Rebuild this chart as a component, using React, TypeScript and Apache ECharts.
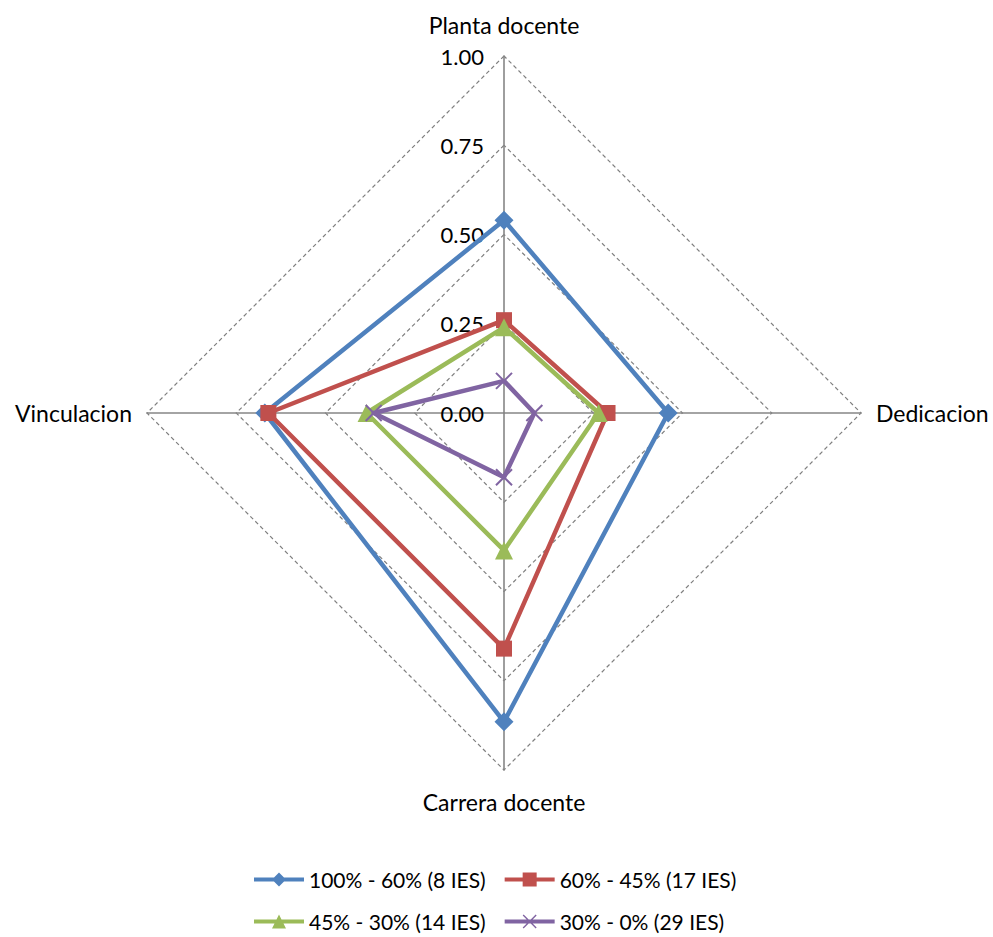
import React, { useEffect, useRef } from "react";
import * as echarts from "echarts";

// Axes listed counter-clockwise from the top, as the radar lays them out
const indicatorNames = ["Planta docente", "Vinculacion", "Carrera docente", "Dedicacion"];
const axisMax = 1;

const seriesNames = [
  "100% - 60% (8 IES)",
  "60% - 45% (17 IES)",
  "45% - 30% (14 IES)",
  "30% - 0% (29 IES)",
];
const group1 = [0.54, 0.67, 0.865, 0.46];
const group2 = [0.26, 0.66, 0.66, 0.29];
const group3 = [0.24, 0.385, 0.385, 0.265];
const group4 = [0.09, 0.365, 0.18, 0.085];

const colors = ["#4F81BD", "#C0504D", "#9BBB59", "#8064A2"];
const FONT = "Lato, 'Open Sans', sans-serif";

// Legend icons: a line with the series marker on it, in a 50x14 box
const LINE = "M0 5H50V9H0Z";
const legendIcons = [
  `path://${LINE}M25 0L32 7L25 14L18 7Z`,
  `path://${LINE}M18 0H32V14H18Z`,
  `path://${LINE}M25 0L32 14H18Z`,
  `path://${LINE}M18 1L19 0L32 13L31 14ZM31 0L32 1L19 14L18 13Z`,
];

export default function App() {
  const ref = useRef<HTMLDivElement>(null);

  useEffect(() => {
    if (!ref.current) return;
    const chart = echarts.init(ref.current, null, { renderer: "svg" });

    const values = [group1, group2, group3, group4];
    const symbols = ["diamond", "rect", "triangle", "path://M0 0L10 10M10 0L0 10"];
    const symbolSizes = [19, 16, 18, 16];

    const series = values.map((v, i) => ({
      type: "radar",
      name: seriesNames[i],
      z: 2 + i,
      symbol: symbols[i],
      symbolSize: symbolSizes[i],
      lineStyle: { color: colors[i], width: 4.5 },
      itemStyle:
        i === 3
          ? { color: "rgba(0,0,0,0)", borderColor: colors[i], borderWidth: 2 }
          : { color: colors[i], borderWidth: 0 },
      data: [{ value: v, name: seriesNames[i] }],
    }));

    const legendData = seriesNames.map((name, i) => ({
      name,
      icon: legendIcons[i],
      itemStyle: { color: colors[i], borderWidth: 0 },
    }));

    const legendBase = {
      left: 254,
      padding: 0,
      itemWidth: 50,
      itemHeight: 14,
      itemGap: 19,
      itemStyle: { borderWidth: 0 },
      textStyle: { color: "#000", fontSize: 21, fontFamily: FONT },
    };

    chart.setOption({
      animation: false,
      backgroundColor: "#ffffff",
      textStyle: { fontFamily: FONT },
      radar: {
        center: [504, 413],
        radius: 357,
        startAngle: 90,
        shape: "polygon",
        splitNumber: 4,
        nameGap: 16,
        axisName: { color: "#000", fontSize: 23, fontFamily: FONT },
        axisLine: { lineStyle: { color: "#868686", width: 1.6 } },
        splitLine: { lineStyle: { color: "#7f7f7f", width: 1.2, type: [4, 3] } },
        splitArea: { show: false },
        axisTick: { show: false },
        axisLabel: {
          show: false,
          color: "#000",
          fontSize: 22,
          fontFamily: FONT,
          formatter: (v: number) => v.toFixed(2),
        },
        indicator: indicatorNames.map((name, i) => ({
          name,
          min: 0,
          max: axisMax,
          nameGap: i % 2 === 0 ? 20 : 15,
          axisLabel: i === 0 ? { show: true, margin: 20 } : { show: false },
        })),
      },
      legend: [
        { ...legendBase, top: 869, data: legendData.slice(0, 2) },
        { ...legendBase, top: 911, data: legendData.slice(2, 4) },
      ],
      series,
    });

    return () => chart.dispose();
  }, []);

  return (
    <div
      ref={ref}
      style={{ position: "fixed", left: 0, top: 0, width: 993, height: 937 }}
    />
  );
}
